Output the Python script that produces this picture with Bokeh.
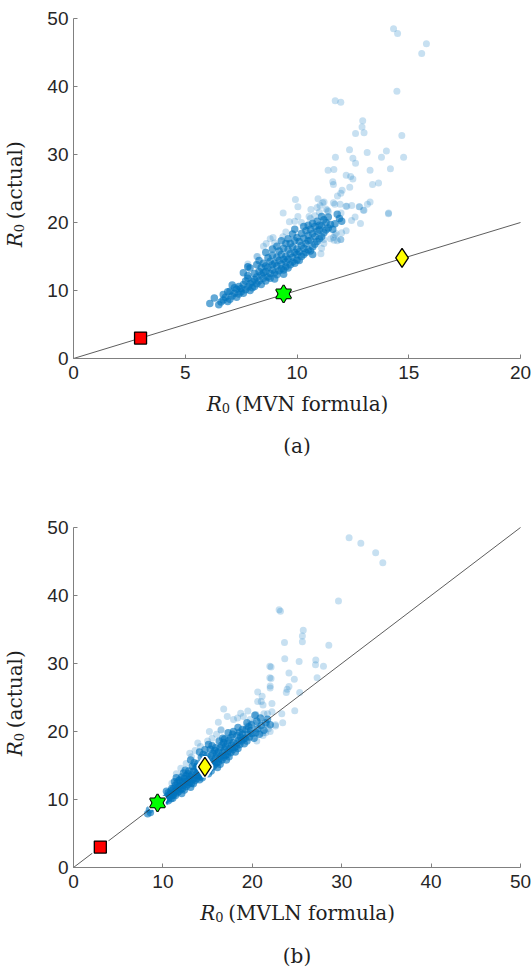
from math import pi
from bokeh.plotting import figure
from bokeh.models import Range1d, FixedTicker, Label, LinearAxis
from bokeh.layouts import column
from bokeh.embed import file_html
from bokeh.resources import INLINE

# ---------------- data ----------------
# panel (a): x = R0 (MVN formula), y = R0 (actual)
a_core = [
    (6.1, 8.1), (6.3, 8.9), (6.5, 7.9), (6.6, 8.3), (6.7, 8.6), (6.8, 9.0), (6.9, 8.4), (6.7, 9.4), (6.9, 9.8),
    (7.0, 8.7), (7.1, 9.2), (7.2, 9.6), (7.0, 9.9), (7.3, 9.0), (7.4, 9.5), (7.3, 10.2), (7.5, 9.8), (7.4, 10.6),
    (7.2, 10.4), (7.5, 10.3), (7.1, 10.8),
    (7.6, 9.6), (7.7, 10.1), (7.8, 10.5), (7.6, 10.9), (7.9, 10.0), (7.9, 11.0), (8.0, 10.4), (7.7, 11.4),
    (7.8, 11.8), (8.0, 11.3), (7.8, 12.2), (7.6, 12.6), (7.9, 13.3), (7.8, 13.5),
    (8.1, 10.6), (8.2, 11.0), (8.1, 11.6), (8.3, 11.4), (8.4, 10.9), (8.2, 12.0), (8.4, 12.3), (8.3, 12.8),
    (8.5, 11.8), (8.5, 12.6), (8.1, 12.5), (8.4, 13.4), (8.2, 13.8), (8.3, 14.4), (8.5, 14.0),
    (8.6, 11.4), (8.7, 12.0), (8.8, 11.8), (8.6, 12.8), (8.8, 12.5), (8.9, 13.0), (8.7, 13.4), (9.0, 12.6),
    (8.9, 13.8), (8.6, 13.6), (8.8, 14.3), (9.0, 14.0), (8.7, 14.8), (8.9, 15.2), (8.6, 15.6), (8.9, 16.1),
    (9.1, 12.3), (9.2, 12.9), (9.3, 13.2), (9.1, 13.6), (9.4, 13.0), (9.3, 13.9), (9.5, 13.5), (9.2, 14.4),
    (9.4, 14.6), (9.1, 14.9), (9.5, 14.2), (9.3, 15.3), (9.5, 15.0), (9.2, 15.8), (9.4, 16.2), (9.1, 16.5),
    (9.5, 16.9), (9.3, 17.3), (9.0, 11.7), (9.4, 12.4),
    (9.6, 13.3), (9.7, 13.8), (9.8, 14.2), (9.6, 14.6), (9.9, 14.0), (9.8, 14.9), (10.0, 14.5), (9.7, 15.4),
    (9.9, 15.6), (9.6, 16.0), (10.0, 15.3), (9.8, 16.4), (10.0, 16.1), (9.7, 16.9), (9.9, 17.3), (9.6, 17.6),
    (10.0, 17.8), (9.8, 18.3), (9.9, 19.0),
    (10.1, 14.4), (10.2, 15.0), (10.3, 15.3), (10.1, 15.7), (10.4, 15.6), (10.3, 16.2), (10.5, 16.0),
    (10.2, 16.6), (10.4, 16.9), (10.1, 17.2), (10.5, 17.3), (10.3, 17.7), (10.5, 18.1), (10.2, 18.4),
    (10.4, 18.8), (10.3, 19.4), (10.5, 19.6),
    (10.6, 15.8), (10.7, 16.4), (10.8, 16.8), (10.6, 17.4), (10.9, 17.2), (10.8, 17.9), (11.0, 17.6),
    (10.7, 18.4), (10.9, 18.7), (10.6, 19.0), (11.0, 18.9), (10.8, 19.4), (10.7, 19.9), (10.9, 20.2),
    (11.0, 19.6), (10.7, 15.3),
    (11.1, 17.9), (11.2, 18.5), (11.3, 18.9), (11.1, 19.5), (11.4, 19.2), (11.3, 20.0), (11.5, 19.7),
    (11.2, 20.4), (11.4, 20.8), (11.1, 20.9), (11.6, 19.0), (11.7, 19.8), (11.9, 20.6), (11.8, 21.2),
    (12.0, 20.2),
]
a_halo = [
    (9.5, 18.6), (9.0, 17.0), (8.5, 16.5), (10.2, 20.0), (10.6, 20.6), (11.0, 21.5), (11.3, 22.0),
    (10.8, 21.0), (9.9, 20.2), (8.8, 17.6), (8.2, 15.0), (7.8, 13.9), (11.1, 16.2), (11.5, 17.6),
    (11.8, 17.3), (12.0, 18.5), (11.7, 18.2), (11.2, 17.5), (11.07, 15.4), (11.66, 17.4), (11.96, 17.5),
    (11.2, 16.9),
]
a_sparse = [
    (14.32, 48.5), (14.50, 47.8), (15.79, 46.3), (15.58, 44.85), (14.47, 39.3), (11.71, 37.9), (11.96, 37.7),
    (12.94, 34.95), (12.91, 34.06), (12.62, 33.1), (13.00, 33.2), (14.69, 32.8), (12.35, 30.7), (13.14, 30.3),
    (14.00, 30.5), (11.72, 29.6), (12.50, 29.45), (12.62, 28.7), (13.78, 29.6), (14.77, 29.6), (11.39, 27.7),
    (11.65, 27.8), (14.18, 27.9), (13.27, 27.7), (12.20, 26.95), (12.40, 26.75), (12.50, 26.4), (11.60, 26.0),
    (11.63, 25.6), (12.36, 25.2), (13.38, 25.6), (13.65, 25.8), (12.02, 24.75), (11.96, 24.3), (11.81, 23.9),
    (13.27, 23.0), (13.15, 22.7), (10.94, 23.5), (9.93, 23.4), (10.04, 22.3), (11.63, 22.9), (11.93, 22.7),
    (12.19, 22.4), (12.45, 22.5), (12.78, 22.3), (12.97, 21.8), (14.10, 21.4), (9.38, 21.4), (11.40, 21.6),
    (11.97, 21.4), (12.44, 20.3), (12.60, 20.8), (12.84, 19.85), (12.20, 18.8), (11.96, 17.5), (11.63, 17.8),
    (11.75, 18.4), (9.66, 20.1), (10.04, 20.9), (10.54, 20.9), (10.90, 22.2), (11.15, 22.9), (8.93, 17.8),
    (8.62, 16.9), (9.37, 17.9), (8.23, 15.0), (7.79, 13.5), (10.62, 21.9), (11.03, 22.5), (11.21, 23.0),
    (11.69, 22.7), (11.36, 21.8), (12.23, 22.4), (12.80, 22.3), (13.00, 21.8), (14.09, 21.3),
]

# panel (b): x = R0 (MVLN formula), y = R0 (actual)
b_core = [
    (8.3, 7.9), (8.6, 8.1), (8.5, 8.5), (9.9, 9.7), (10.1, 9.9), (10.3, 10.2),
    (10.2, 9.6), (10.4, 10.0), (10.5, 10.5), (10.6, 9.8), (10.7, 10.3), (10.8, 10.8), (10.9, 10.1),
    (11.0, 10.6), (10.6, 11.0), (10.9, 11.3), (10.4, 11.2), (11.0, 11.6),
    (11.1, 10.2), (11.2, 10.7), (11.3, 11.1), (11.4, 10.6), (11.5, 11.4), (11.6, 11.0), (11.7, 11.8),
    (11.8, 11.2), (11.9, 12.0), (11.2, 11.6), (11.4, 12.1), (11.6, 12.5), (11.8, 12.8), (11.3, 12.6),
    (12.0, 11.5), (11.9, 12.9), (11.5, 13.2),
    (12.1, 10.9), (12.2, 11.6), (12.3, 12.1), (12.4, 11.4), (12.5, 12.4), (12.6, 11.9), (12.7, 12.7),
    (12.8, 12.2), (12.9, 13.0), (13.0, 12.5), (12.2, 12.6), (12.4, 13.1), (12.6, 13.5), (12.8, 13.8),
    (12.3, 13.9), (12.5, 14.3), (12.9, 14.2), (12.1, 13.3), (13.0, 13.4),
    (13.1, 11.8), (13.2, 12.4), (13.3, 12.9), (13.4, 12.3), (13.5, 13.2), (13.6, 12.8), (13.7, 13.6),
    (13.8, 13.1), (13.9, 14.0), (14.0, 13.5), (13.2, 13.6), (13.4, 14.1), (13.6, 14.5), (13.8, 14.8),
    (13.3, 14.9), (13.5, 15.4), (13.9, 15.3), (13.1, 15.8), (14.0, 14.4),
    (14.1, 12.9), (14.2, 13.4), (14.3, 13.9), (14.4, 13.2), (14.5, 14.2), (14.6, 13.7), (14.7, 14.6),
    (14.8, 14.0), (14.9, 15.0), (15.0, 14.4), (14.2, 14.8), (14.4, 15.3), (14.6, 15.7), (14.8, 16.0),
    (14.3, 16.2), (14.5, 16.6), (14.9, 16.4), (14.1, 17.0), (15.0, 15.5), (14.7, 17.3),
    (15.1, 13.8), (15.2, 14.5), (15.3, 15.0), (15.4, 14.2), (15.5, 15.3), (15.6, 14.8), (15.7, 15.7),
    (15.8, 15.1), (15.9, 16.1), (16.0, 15.4), (15.2, 15.9), (15.4, 16.4), (15.6, 16.8), (15.8, 17.2),
    (15.3, 17.4), (15.5, 17.9), (15.9, 17.6), (15.1, 18.1), (16.0, 16.7),
    (16.1, 14.7), (16.2, 15.5), (16.3, 16.0), (16.4, 15.2), (16.5, 16.4), (16.6, 15.8), (16.7, 16.9),
    (16.8, 16.2), (16.9, 17.3), (17.0, 16.5), (16.2, 17.0), (16.4, 17.6), (16.6, 18.0), (16.8, 18.4),
    (16.3, 18.6), (16.7, 19.0), (16.9, 18.9), (17.0, 17.8),
    (17.1, 15.8), (17.2, 16.6), (17.3, 17.1), (17.4, 16.3), (17.5, 17.5), (17.6, 16.9), (17.7, 18.0),
    (17.8, 17.3), (17.9, 18.4), (18.0, 17.7), (17.2, 18.2), (17.4, 18.7), (17.6, 19.1), (17.8, 19.6),
    (17.3, 19.8), (17.9, 20.0),
    (18.1, 17.0), (18.2, 17.8), (18.3, 18.3), (18.4, 17.5), (18.5, 18.7), (18.6, 18.1), (18.7, 19.2),
    (18.8, 18.6), (18.9, 19.6), (19.0, 18.9), (18.3, 19.4), (18.6, 19.9), (18.9, 20.3), (18.4, 20.6),
    (19.1, 18.2), (19.2, 19.0), (19.4, 18.6), (19.5, 19.6), (19.7, 19.2), (19.8, 20.1), (20.0, 19.7),
    (19.3, 20.3), (19.6, 20.7), (19.9, 21.0), (19.4, 21.3),
    (20.2, 19.0), (20.4, 19.8), (20.6, 20.4), (20.8, 19.6), (21.0, 20.9), (21.3, 20.2), (21.5, 21.3),
    (20.5, 21.5), (20.9, 22.0), (21.7, 21.8), (22.0, 21.0), (20.3, 22.4),
]
b_halo = [
    (12.0, 14.6), (12.6, 15.3), (13.2, 16.3), (13.0, 16.8), (13.6, 17.2), (14.2, 17.8), (13.9, 18.3),
    (15.0, 18.6), (15.5, 19.0), (16.0, 19.6), (16.5, 20.2), (15.2, 20.0), (11.5, 13.8), (11.0, 12.4),
    (20.5, 18.6), (21.2, 19.4), (22.0, 20.0), (22.6, 21.0),
]
b_sparse = [
    (30.83, 48.5), (32.14, 47.7), (33.8, 46.3), (34.6, 44.8), (29.64, 39.2), (23.0, 37.9), (23.15, 37.7),
    (25.7, 34.9), (25.6, 34.06), (25.6, 33.2), (23.6, 33.1), (28.56, 32.7), (23.63, 30.7), (25.24, 30.3),
    (27.1, 30.5), (21.96, 29.6), (22.1, 29.5), (27.07, 29.8), (27.96, 29.6), (24.1, 28.6), (21.96, 27.9),
    (22.1, 27.8), (24.7, 27.7), (27.25, 27.9), (22.0, 26.7), (22.0, 26.4), (24.1, 26.6), (23.9, 26.2),
    (23.8, 25.75), (25.3, 25.75), (20.6, 25.8), (21.1, 25.2), (21.0, 24.4), (20.6, 24.4), (22.2, 24.1),
    (21.2, 23.9), (16.8, 23.3), (24.75, 23.06), (23.3, 22.6), (22.2, 22.9), (21.7, 22.6), (21.3, 22.6),
    (20.4, 22.5), (19.5, 23.0), (23.4, 21.3), (22.6, 20.8), (16.2, 21.35), (21.5, 19.8),
    (18.7, 22.7), (18.35, 22.0), (17.9, 21.75), (19.0, 22.2), (19.76, 21.75), (20.1, 21.3), (20.85, 21.1),
    (21.6, 21.1), (21.8, 20.4), (21.2, 19.8), (20.5, 20.4), (19.4, 20.8), (17.2, 22.2), (16.5, 20.3),
]

# highlighted reference points (identical in both panels)
square_x, square_y = [3.0], [3.0]
hexagram_x, hexagram_y = [9.4], [9.5]
diamond_x, diamond_y = [14.7], [14.8]

# reference line y = x
line_a_x, line_a_y = [0, 20], [0, 20]
line_b_x, line_b_y = [0, 50], [0, 50]

a_xticks = [0, 5, 10, 15, 20]
b_xticks = [0, 10, 20, 30, 40, 50]
y_ticks = [0, 10, 20, 30, 40, 50]
Y_MAX = 50

BLUE = "#0072BD"
SERIF = "DejaVu Serif"
TXT = "#1f1f1f"
# pixel layout of one panel: axes box inside a canvas that is all frame
L_PX, R_PX, W_PX, H_PX = 73, 12, 447, 340


def add_text(p, xmax, text, dx, dy, size, style="normal", angle=0.0, align="left"):
    # dx, dy: pixel offsets from the axes' origin corner
    p.add_layout(Label(x=dx * xmax / W_PX, y=dy * Y_MAX / H_PX, text=text,
                       text_font=SERIF, text_font_size=f"{size}px",
                       text_font_style=style, angle=angle, text_align=align,
                       text_baseline="alphabetic", text_color=TXT))


def panel(xmax, xticks, core, extra, line_x, line_y, xrest, xdx, caption, cap_dy,
          top_px, bottom_px, halo):
    sx = xmax / W_PX
    sy = Y_MAX / H_PX
    p = figure(frame_width=L_PX + W_PX + R_PX, frame_height=top_px + H_PX + bottom_px,
               x_range=Range1d(-L_PX * sx, (W_PX + R_PX) * sx),
               y_range=Range1d(-bottom_px * sy, (H_PX + top_px) * sy),
               x_axis_location=None, y_axis_location=None,
               output_backend="svg", toolbar_location=None,
               min_border_left=0, min_border_right=0, min_border_top=0, min_border_bottom=0,
               background_fill_color="white", border_fill_color="white")
    p.outline_line_color = None
    p.grid.visible = False

    xaxis = LinearAxis(fixed_location=0, bounds=(0, xmax), ticker=FixedTicker(ticks=xticks))
    yaxis = LinearAxis(fixed_location=0, bounds=(0, Y_MAX), ticker=FixedTicker(ticks=y_ticks))
    for ax in (xaxis, yaxis):
        ax.axis_line_color = "#808080"
        ax.major_tick_line_color = "#808080"
        ax.major_tick_in = 4
        ax.major_tick_out = 0
        ax.minor_tick_line_color = None
        ax.major_label_text_font = "Liberation Sans"
        ax.major_label_text_font_size = "19px"
        ax.major_label_text_color = "#262626"
    xaxis.major_label_standoff = 7
    yaxis.major_label_standoff = 5
    p.add_layout(xaxis, "below")
    p.add_layout(yaxis, "left")

    p.scatter([q[0] for q in core], [q[1] for q in core], size=7.5,
              fill_color=BLUE, fill_alpha=0.62, line_color=None)
    for pts in extra:
        p.scatter([q[0] for q in pts], [q[1] for q in pts], size=7,
                  fill_color=BLUE, fill_alpha=0.22, line_color=None)

    p.line(line_x, line_y, line_color="#333333", line_width=0.8)

    if halo:
        p.scatter(square_x, square_y, marker="square", size=12, fill_color="white",
                  line_color="white", line_width=5)
        p.scatter(hexagram_x, hexagram_y, marker="triangle", size=15, fill_color="white",
                  line_color="white", line_width=5)
        p.scatter(hexagram_x, hexagram_y, marker="inverted_triangle", size=15, fill_color="white",
                  line_color="white", line_width=5)
        p.scatter(diamond_x, diamond_y, marker="diamond", size=19, fill_color="white",
                  line_color="white", line_width=5)

    p.scatter(square_x, square_y, marker="square", size=12, fill_color="#FF0000",
              line_color="black", line_width=1.3)
    p.scatter(hexagram_x, hexagram_y, marker="triangle", size=15, fill_color="#00FF00",
              line_color="black", line_width=2)
    p.scatter(hexagram_x, hexagram_y, marker="inverted_triangle", size=15, fill_color="#00FF00",
              line_color="black", line_width=2)
    p.scatter(hexagram_x, hexagram_y, marker="triangle", size=15, fill_color="#00FF00",
              line_color=None)
    p.scatter(hexagram_x, hexagram_y, marker="inverted_triangle", size=15, fill_color="#00FF00",
              line_color=None)
    p.scatter(diamond_x, diamond_y, marker="diamond", size=19, fill_color="#FFFF00",
              line_color="black", line_width=1.3)

    # x axis label: R_0 (... formula)
    add_text(p, xmax, "R", xdx, -45.4, 20, style="italic")
    add_text(p, xmax, "0", xdx + 15, -49.5, 13)
    add_text(p, xmax, xrest, xdx + 28, -45.4, 20)
    # y axis label: R_0 (actual), rotated
    add_text(p, xmax, "R", -58.2, 111.3, 20, style="italic", angle=pi / 2)
    add_text(p, xmax, "0", -54.2, 126.3, 13, angle=pi / 2)
    add_text(p, xmax, "(actual)", -58.2, 139.3, 20, angle=pi / 2)
    # caption
    add_text(p, xmax, caption, W_PX / 2, cap_dy, 20, align="center")
    return p


pa = panel(20, a_xticks, a_core, [a_halo, a_sparse], line_a_x, line_a_y,
           "(MVN formula)", 133.3, "(a)", -87.7, 18, 159, False)
pb = panel(50, b_xticks, b_core, [b_halo, b_sparse], line_b_x, line_b_y,
           "(MVLN formula)", 126.7, "(b)", -88.0, 10, 106, True)

layout = column(pa, pb, spacing=0)
open("out.html", "w").write(file_html(layout, INLINE))
